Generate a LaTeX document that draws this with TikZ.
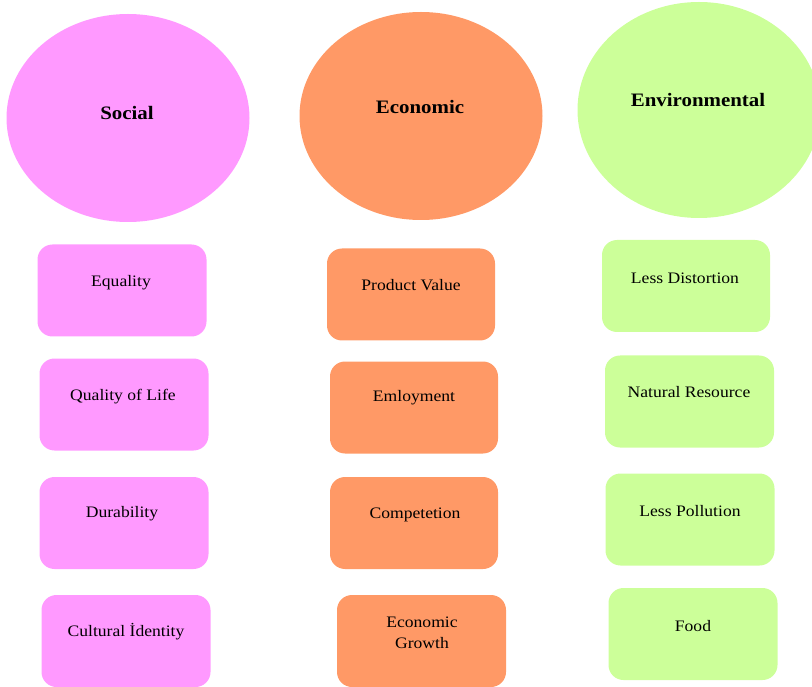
\documentclass[tikz,border=0pt]{standalone}
\usepackage{fontspec}
\setmainfont[FakeStretch=1.1]{Liberation Serif}
\usetikzlibrary{shapes.geometric}
\definecolor{socc}{HTML}{FF99FF}
\definecolor{ecoc}{HTML}{FF9966}
\definecolor{envc}{HTML}{CCFF99}
\tikzset{
  circ/.style={ellipse, inner sep=0pt, minimum width=243pt, minimum height=208pt},
  head/.style={font=\fontsize{19}{22}\selectfont\bfseries, inner sep=0pt},
  card/.style={rounded corners=15pt, inner sep=0pt, minimum width=169pt, minimum height=92pt},
  lab/.style={font=\fontsize{16}{21}\selectfont, inner sep=0pt, align=center},
}
\begin{document}
\begin{tikzpicture}[x=1pt,y=-1pt]
\useasboundingbox (0,0) rectangle (812,687);
\begin{scope}
\clip (0,0) rectangle (812,687);
% ellipses
\node[circ, fill=socc] (soc) at (128,118) {};
\node[circ, fill=ecoc] (eco) at (421,116) {};
\node[circ, fill=envc, minimum height=216pt] (env) at (699,110) {};
\node[head] (socT) at (127,113) {Social};
\node[head] (ecoT) at (420,107) {Economic};
\node[head] (envT) at (698,100) {Environmental};
% social column
\node[card, fill=socc] (s1) at (122,290.5) {};
\node[card, fill=socc] (s2) at (124,404.5) {};
\node[card, fill=socc] (s3) at (124,523) {};
\node[card, fill=socc] (s4) at (126,641) {};
\node[lab] (s1t) at (121,283) {Equality};
\node[lab] (s2t) at (123,397) {Quality of Life};
\node[lab] (s3t) at (122,514) {Durability};
\node[lab] (s4t) at (126,632) {Cultural İdentity};
% economic column
\node[card, fill=ecoc, minimum width=168pt] (e1) at (411,294.5) {};
\node[card, fill=ecoc, minimum width=168pt] (e2) at (414,407.5) {};
\node[card, fill=ecoc, minimum width=168pt] (e3) at (414,523) {};
\node[card, fill=ecoc] (e4) at (421.5,641) {};
\node[lab] (e1t) at (411,285) {Product Value};
\node[lab] (e2t) at (414,398) {Emloyment};
\node[lab] (e3t) at (415,515) {Competetion};
\node[lab] (e4t) at (422,633) {Economic\\Growth};
% environmental column
\node[card, fill=envc, minimum width=168pt] (v1) at (686,286) {};
\node[card, fill=envc] (v2) at (689.5,401.5) {};
\node[card, fill=envc] (v3) at (690,519.5) {};
\node[card, fill=envc] (v4) at (693,634) {};
\node[lab] (v1t) at (685,278) {Less Distortion};
\node[lab] (v2t) at (689,392) {Natural Resource};
\node[lab] (v3t) at (690,511) {Less Pollution};
\node[lab] (v4t) at (693,626) {Food};
\end{scope}
\end{tikzpicture}
\end{document}
